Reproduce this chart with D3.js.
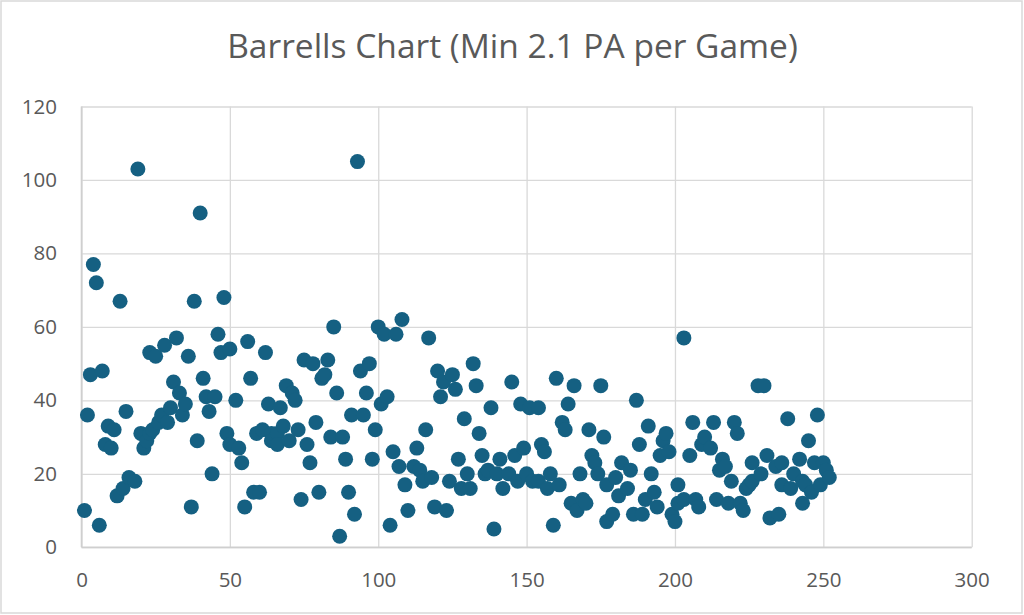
<!DOCTYPE html>
<html>
<head>
<meta charset="utf-8">
<script src="https://cdn.jsdelivr.net/npm/d3@7"></script>
<style>
  html, body { margin: 0; padding: 0; background: #fff; }
  svg { display: block; }
</style>
</head>
<body>
<svg id="chart" width="1024" height="615"></svg>
<script>
const title = "Barrells Chart (Min 2.1 PA per Game)";
const xTicks = [0, 50, 100, 150, 200, 250, 300];
const yTicks = [0, 20, 40, 60, 80, 100, 120];

// rank (x) and barrels (y)
const rank = [
  1,2,3,4,5,6,7,8,9,10,11,12,13,14,15,16,18,19,20,21,22,23,23,24,25,26,27,28,29,30,
  31,32,33,34,35,36,37,38,39,40,41,42,43,44,45,46,47,48,49,50,50,52,
  53,54,55,56,57,58,59,60,61,62,63,64,64,66,66,67,68,69,70,71,72,73,74,75,76,77,78,79,
  80,81,82,83,84,85,86,87,88,89,90,91,92,93,94,95,96,97,98,99,100,101,102,
  103,104,105,106,107,108,109,110,112,113,114,115,116,117,118,119,120,121,122,123,124,125,
  126,127,128,129,130,131,132,133,134,135,136,137,138,139,140,141,142,144,145,146,147,148,
  149,150,151,152,
  154,154,155,156,157,158,159,160,161,162,163,164,165,166,167,168,169,170,171,172,173,174,
  175,176,177,177,179,180,181,182,184,185,186,187,188,189,190,191,192,193,194,195,196,197,
  198,199,200,201,201,
  203,203,205,206,207,208,209,210,212,213,214,215,216,217,218,219,220,221,222,223,224,225,
  226,226,228,229,230,231,232,234,235,236,236,238,239,240,242,243,243,244,245,246,247,248,
  249,250,251,252
];
const barrels = [
  10,36,47,77,72,6,48,28,33,27,32,14,67,16,37,19,18,103,31,27,29,31,53,32,52,34,36,55,34,38,
  45,57,42,36,39,52,11,67,29,91,46,41,37,20,41,58,53,68,31,28,54,40,
  27,23,11,56,46,15,31,15,32,53,39,31,29,31,28,38,33,44,29,42,40,32,13,51,28,23,50,34,
  15,46,47,51,30,60,42,3,30,24,15,36,9,105,48,36,42,50,24,32,60,39,58,
  41,6,26,58,22,62,17,10,22,27,21,18,32,57,19,11,48,41,45,10,18,47,
  43,24,16,35,20,16,50,44,31,25,20,21,38,5,20,24,16,20,45,25,18,39,
  27,20,38,18,
  38,18,28,26,16,20,6,46,17,34,32,39,12,44,10,20,13,12,32,25,23,20,
  44,30,17,7,9,19,14,23,16,21,9,40,28,9,13,33,20,15,11,25,29,31,
  26,9,7,17,12,
  57,13,25,34,13,11,28,30,27,34,13,21,24,22,12,18,34,31,12,10,16,17,
  23,18,44,20,44,25,8,22,9,23,17,35,16,20,24,12,18,17,29,15,23,36,
  17,23,21,19
];

const svg = d3.select("#chart");
const W = 1024, H = 615;
const plotLeft = 81.5, plotRight = 971.7, plotTop = 106.5, plotBottom = 547.3;
const textColor = "#595959";
const gridColor = "#d9d9d9";
const dotColor = "#156082";
const font = "'Open Sans', 'Liberation Sans', sans-serif";

svg.append("rect")
  .attr("x", 1).attr("y", 1).attr("width", W - 3).attr("height", H - 3)
  .attr("fill", "#fff").attr("stroke", gridColor).attr("stroke-width", 1.5);

const x = d3.scaleLinear().domain([0, 300]).range([plotLeft, plotRight]);
const y = d3.scaleLinear().domain([0, 120]).range([plotBottom, plotTop]);

const yAxis = d3.axisLeft(y).tickValues(yTicks).tickSize(-(plotRight - plotLeft)).tickPadding(24.5);
const gy = svg.append("g").attr("transform", `translate(${plotLeft},0)`).call(yAxis);
gy.select(".domain").remove();
gy.selectAll(".tick line").attr("stroke", gridColor).attr("stroke-width", 1.3);
gy.selectAll(".tick text").attr("fill", textColor).style("font-family", font).style("font-size", "20.5px");

const xAxis = d3.axisBottom(x).tickValues(xTicks).tickSize(-(plotBottom - plotTop)).tickPadding(25);
const gx = svg.append("g").attr("transform", `translate(0,${plotBottom})`).call(xAxis);
gx.select(".domain").remove();
gx.selectAll(".tick line").attr("stroke", gridColor).attr("stroke-width", 1.3);
gx.selectAll(".tick text").attr("fill", textColor).style("font-family", font).style("font-size", "20.5px");

svg.append("line").attr("x1", plotLeft).attr("x2", plotRight).attr("y1", plotBottom).attr("y2", plotBottom)
  .attr("stroke", "#cfcfcf").attr("stroke-width", 1.6);
svg.append("line").attr("x1", plotLeft).attr("x2", plotLeft).attr("y1", plotTop).attr("y2", plotBottom)
  .attr("stroke", "#cfcfcf").attr("stroke-width", 1.6);

const pts = rank.map((r, i) => ({ r, b: barrels[i] }));
svg.append("g").selectAll("circle").data(pts).join("circle")
  .attr("cx", d => x(d.r)).attr("cy", d => y(d.b)).attr("r", 7.5)
  .attr("fill", dotColor);

svg.append("text")
  .attr("x", 512.5).attr("y", 58)
  .attr("text-anchor", "middle")
  .attr("fill", textColor)
  .style("font-family", font)
  .style("font-size", "33.5px")
  .text(title);
</script>
</body>
</html>
